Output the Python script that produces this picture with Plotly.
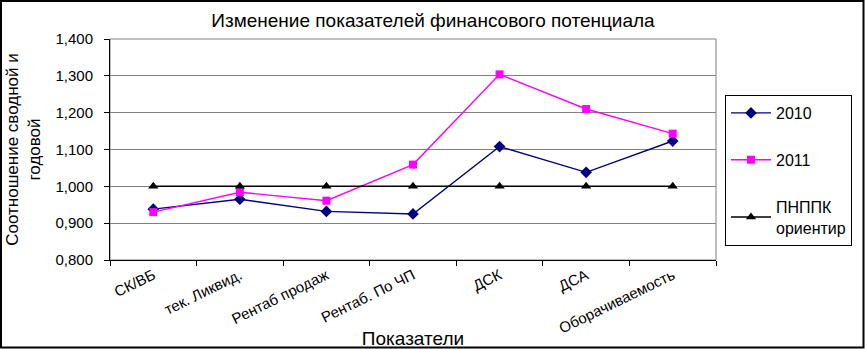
import plotly.graph_objects as go

categories = ["СК/ВБ", "тек. Ликвид.", "Рентаб продаж", "Рентаб. По ЧП", "ДСК", "ДСА", "Оборачиваемость"]
values_2010 = [0.938, 0.965, 0.932, 0.925, 1.108, 1.038, 1.123]
values_2011 = [0.930, 0.984, 0.961, 1.059, 1.304, 1.210, 1.143]
values_bench = [1.000, 1.000, 1.000, 1.000, 1.000, 1.000, 1.000]
y_ticks = [0.8, 0.9, 1.0, 1.1, 1.2, 1.3, 1.4]
y_tick_labels = ["0,800", "0,900", "1,000", "1,100", "1,200", "1,300", "1,400"]

W, H = 865, 349
L, R, T, B = 110, 149, 39, 89
pw, ph = W - L - R, H - T - B

font = "Liberation Sans, Arial, sans-serif"

fig = go.Figure()
fig.add_trace(go.Scatter(x=categories, y=values_2010, name="2010", mode="lines+markers",
                         line=dict(color="#000080", width=1.4),
                         marker=dict(symbol="diamond", size=9, color="#000080"),
                         legendgroup="a"))
fig.add_trace(go.Scatter(x=categories, y=values_2011, name="2011", mode="lines+markers",
                         line=dict(color="#FF00FF", width=1.4),
                         marker=dict(symbol="square", size=8, color="#FF00FF"),
                         legendgroup="b"))
fig.add_trace(go.Scatter(x=categories, y=values_bench, name="ПНППК<br>ориентир", mode="lines+markers",
                         line=dict(color="#000000", width=1.5),
                         marker=dict(symbol="triangle-up", size=9, color="#000000"),
                         legendgroup="c"))

# plot-area border (gray) and outer frame (black)
fig.add_shape(type="rect", xref="paper", yref="paper", x0=0, x1=1, y0=0, y1=1,
              line=dict(color="#808080", width=1), layer="below")
fig.add_shape(type="rect", xref="paper", yref="paper",
              x0=-(L - 1) / pw, x1=(W - 1.5 - L) / pw,
              y0=-(B - 1.5) / ph, y1=(H - 1 - B) / ph,
              line=dict(color="#000000", width=2))

fig.update_layout(
    width=W, height=H,
    margin=dict(l=L, r=R, t=T, b=B, autoexpand=False),
    paper_bgcolor="white", plot_bgcolor="white",
    font=dict(family=font, color="black", size=13),
    title=dict(text="Изменение показателей финансового потенциала", x=433 / W, xanchor="center",
               y=1 - 20 / H, yanchor="middle", font=dict(size=19)),
    showlegend=True,
    legend=dict(x=(725 - L) / pw, xanchor="left", y=(ph - (95 - T)) / ph, yanchor="top",
                bordercolor="black", borderwidth=1, bgcolor="white",
                tracegroupgap=23, itemwidth=40, font=dict(size=16)),
    xaxis=dict(type="category", range=[-0.5, 6.5], showgrid=False, showline=True,
               linecolor="black", linewidth=1,
               ticks="outside", tickson="boundaries", ticklen=5, tickcolor="black",
               tickangle=-26, tickfont=dict(size=15), automargin=False,
               title=dict(text="Показатели", font=dict(size=19), standoff=0)),
    yaxis=dict(range=[0.8, 1.4], tickvals=y_ticks, ticktext=y_tick_labels,
               showgrid=True, gridcolor="#808080", gridwidth=1,
               showline=True, linecolor="black", linewidth=1,
               ticks="outside", ticklen=5, tickcolor="black", tickfont=dict(size=15),
               ticklabelstandoff=8, automargin=False,
               zeroline=False,
               title=dict(text="Соотношение сводной и<br>годовой", font=dict(size=17), standoff=10)),
)

fig.write_html("out.html", config={"displayModeBar": False},
               post_script="document.body.style.margin='0';document.body.style.overflow='hidden';")
